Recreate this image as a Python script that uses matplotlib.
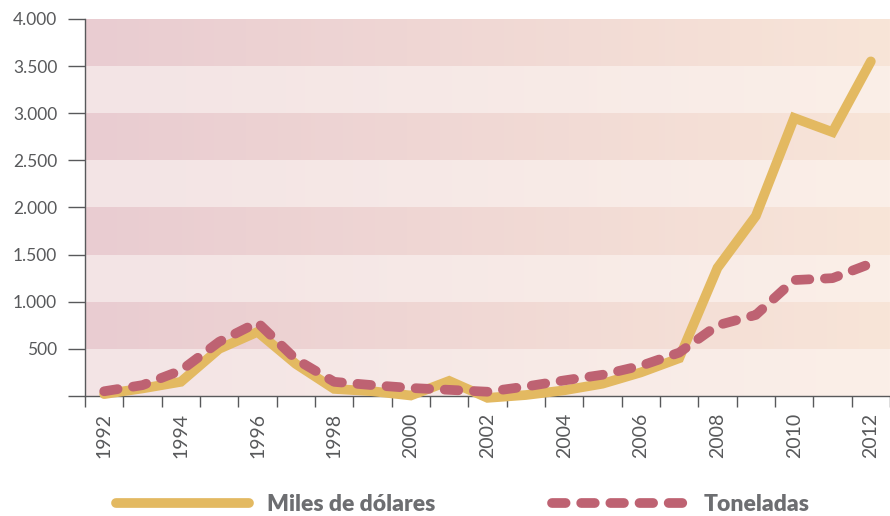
import matplotlib.pyplot as plt
import numpy as np
from matplotlib.lines import Line2D


plt.rcParams.update(
    {
        "font.family": ["Lato", "DejaVu Sans"],
        "xtick.labelsize": 14,
        "ytick.labelsize": 12.5,
    }
)

YEARS = list(range(1992, 2013))
MILES_DOLARES = [
    20, 80, 150, 500, 680, 340, 75, 50, 5, 160, -20,
    10, 60, 130, 250, 400, 1360, 1910, 2950, 2800, 3550,
]
TONELADAS = [
    50, 115, 270, 575, 780, 390, 150, 115, 85, 65, 45,
    100, 165, 225, 320, 460, 750, 860, 1230, 1250, 1405,
]
Y_TICKS = [0, 500, 1000, 1500, 2000, 2500, 3000, 3500, 4000]
Y_LABELS = ["", "500", "1.000", "1.500", "2.000", "2.500", "3.000", "3.500", "4.000"]

GOLD = "#E3B961"
ROSE = "#BE6272"
TEXT_GREY = "#58595b"

# colores de las franjas (izquierda -> derecha)
DARK_L, DARK_R = np.array([233, 204, 209]), np.array([248, 229, 216])
LIGHT_L, LIGHT_R = np.array([243, 228, 229]), np.array([251, 239, 232])


fig = plt.figure(figsize=(8.9, 5.16), dpi=100)
ax = fig.add_axes([0.0955, 0.2326, 0.9045, 0.7306])

x = np.arange(len(YEARS))
n_bands = len(Y_TICKS) - 1

# fondo con franjas y degradado horizontal
t = np.linspace(0, 1, 400)[:, None]
rows = []
for i in range(n_bands):
    # banda 0 es la de arriba (3500-4000), oscura
    left, right = (DARK_L, DARK_R) if i % 2 == 0 else (LIGHT_L, LIGHT_R)
    rows.append(left + (right - left) * t)
bg = np.stack(rows, axis=0) / 255.0
ax.imshow(
    bg,
    extent=(-0.5, len(YEARS) - 0.5, 0, Y_TICKS[-1]),
    aspect="auto",
    interpolation="nearest",
    zorder=0,
)

ax.plot(
    x, MILES_DOLARES, color=GOLD, lw=7,
    solid_capstyle="round", solid_joinstyle="miter",
    clip_on=False, zorder=3,
)
ax.plot(
    x, TONELADAS, color=ROSE, lw=7, linestyle=(0, (1.4, 1.6)),
    dash_capstyle="round", dash_joinstyle="round",
    clip_on=False, zorder=4,
)

ax.set_xlim(-0.5, len(YEARS) - 0.5)
ax.set_ylim(0, 4000)

ax.set_yticks(Y_TICKS)
ax.set_yticklabels(Y_LABELS, color=TEXT_GREY)
ax.tick_params(axis="y", length=12, width=1, color="#58595b", pad=8)

ax.set_xticks(np.arange(len(YEARS) + 1) - 0.5)
ax.set_xticklabels([])
ax.tick_params(axis="x", which="major", length=8, width=1, color="#58595b")
ax.set_xticks(x[::2], minor=True)
ax.set_xticklabels([str(y) for y in YEARS[::2]], minor=True, rotation=90,
                   color=TEXT_GREY, fontsize=14)
ax.tick_params(axis="x", which="minor", length=0, pad=12)

for side in ["top", "right"]:
    ax.spines[side].set_visible(False)
for side in ["left", "bottom"]:
    ax.spines[side].set_color("#58595b")
    ax.spines[side].set_linewidth(1)

handles = [
    Line2D([], [], color=GOLD, lw=7, solid_capstyle="round"),
    Line2D([], [], color=ROSE, lw=7, linestyle=(0, (1.4, 1.6)), dash_capstyle="round"),
]
leg = fig.legend(
    handles,
    ["Miles de dólares", "Toneladas"],
    loc="center left",
    bbox_to_anchor=(0.107, 0.022),
    ncol=2,
    frameon=False,
    handlelength=5.8,
    handletextpad=0.8,
    columnspacing=5.1,
    prop={"family": "Lato", "size": 16.5, "weight": "heavy"},
)
for txt in leg.get_texts():
    txt.set_color("#6d6e71")

fig.savefig("out.png", dpi=100)
